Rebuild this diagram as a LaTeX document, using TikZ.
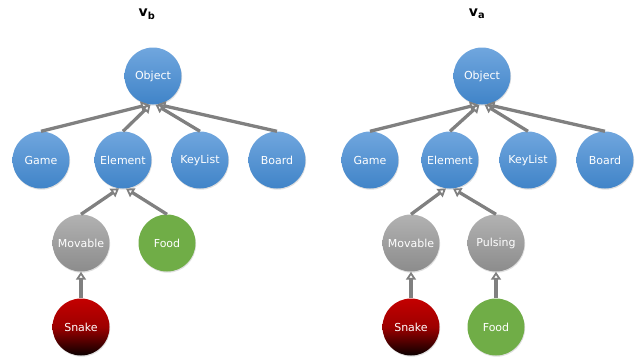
\documentclass[tikz,border=0pt]{standalone}
\usepackage{fontspec}
\setmainfont{DejaVu Sans}
\usepackage{tikz}
\usetikzlibrary{arrows.meta, shadows}
\definecolor{clsblueT}{RGB}{112,166,222}
\definecolor{clsblueB}{RGB}{64,132,200}
\definecolor{clsgrayT}{RGB}{178,178,178}
\definecolor{clsgrayB}{RGB}{140,140,140}
\definecolor{clsgreen}{RGB}{112,173,71}
\definecolor{clsredT}{RGB}{196,0,0}
\definecolor{clsredB}{RGB}{10,0,0}
\definecolor{arrowgray}{RGB}{128,128,128}
\tikzstyle{cls} = [circle, minimum size=57pt, inner sep=0pt, text=white, font=\fontsize{11}{13}\selectfont, drop shadow={opacity=0.25, shadow xshift=0.6pt, shadow yshift=-1.2pt}]
\tikzstyle{bluecls} = [cls, top color=clsblueT, bottom color=clsblueB]
\tikzstyle{graycls} = [cls, top color=clsgrayT, bottom color=clsgrayB]
\tikzstyle{greencls} = [cls, fill=clsgreen]
\tikzstyle{redcls} = [cls, top color=clsredT, bottom color=clsredB, middle color=clsredT!80!black]
\tikzstyle{title} = [font=\fontsize{14}{16}\selectfont\bfseries]
\tikzstyle{arrow} = [line width=3.3pt, draw=arrowgray, -{Triangle[open, length=8pt, width=10pt, line width=1.8pt]}]

\begin{document}
\begin{tikzpicture}[x=1pt, y=-1pt]
		\useasboundingbox (0,0) rectangle (638,360);
		% version b
		\node (TitleB) [title] at (147,14) {v\textsubscript{b}};
		\node (ObjectB) [bluecls] at (153,76) {Object};
		\node (GameB) [bluecls] at (41,160) {Game};
		\node (ElementB) [bluecls] at (123,160) {Element};
		\node (KeyListB) [bluecls] at (200,160) {KeyList};
		\node (BoardB) [bluecls] at (277,160) {Board};
		\node (MovableB) [graycls] at (81,243) {Movable};
		\node (FoodB) [greencls] at (167,243) {Food};
		\node (SnakeB) [redcls] at (81,327) {Snake};
		\draw [arrow] (GameB.north) -- (ObjectB.262);
		\draw [arrow] (ElementB.north) -- (ObjectB.265);
		\draw [arrow] (KeyListB.north) -- (ObjectB.275);
		\draw [arrow] (BoardB.north) -- (ObjectB.279);
		\draw [arrow] (MovableB.north) -- (ElementB.262);
		\draw [arrow] (FoodB.north) -- (ElementB.276);
		\draw [arrow] (SnakeB.north) -- (MovableB.south);
		% version a
		\node (TitleA) [title] at (477,14) {v\textsubscript{a}};
		\node (ObjectA) [bluecls] at (482,76) {Object};
		\node (GameA) [bluecls] at (370,160) {Game};
		\node (ElementA) [bluecls] at (450,160) {Element};
		\node (KeyListA) [bluecls] at (528,160) {KeyList};
		\node (BoardA) [bluecls] at (605,160) {Board};
		\node (MovableA) [graycls] at (411,243) {Movable};
		\node (PulsingA) [graycls] at (496,243) {Pulsing};
		\node (SnakeA) [redcls] at (411,327) {Snake};
		\node (FoodA) [greencls] at (496,327) {Food};
		\draw [arrow] (GameA.north) -- (ObjectA.262);
		\draw [arrow] (ElementA.north) -- (ObjectA.265);
		\draw [arrow] (KeyListA.north) -- (ObjectA.275);
		\draw [arrow] (BoardA.north) -- (ObjectA.279);
		\draw [arrow] (MovableA.north) -- (ElementA.262);
		\draw [arrow] (PulsingA.north) -- (ElementA.276);
		\draw [arrow] (SnakeA.north) -- (MovableA.south);
		\draw [arrow] (FoodA.north) -- (PulsingA.south);
\end{tikzpicture}
\end{document}
